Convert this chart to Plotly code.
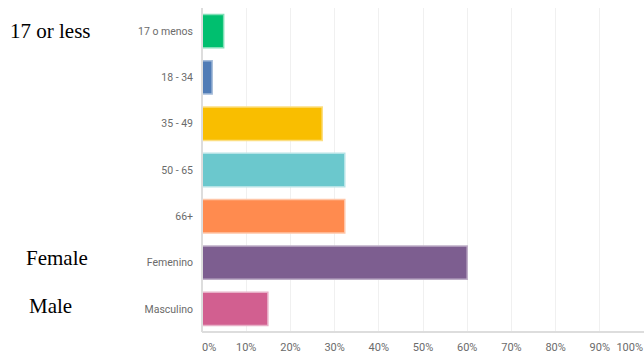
import plotly.graph_objects as go

categories = ["17 o menos", "18 - 34", "35 - 49", "50 - 65", "66+", "Femenino", "Masculino"]
values = [4.9, 2.3, 27.2, 32.3, 32.3, 60.0, 14.9]
colors = ["#00BF6F", "#507CB6", "#F9BE00", "#6BC8CD", "#FF8B4F", "#7D5E90", "#D25F90"]
borders = ["#80DFB7", "#A7BDDA", "#FCDE80", "#B5E3E6", "#FFC5A7", "#BEAEC7", "#E8AFC7"]
mid_ticks = [10, 20, 30, 40, 50, 60, 70, 80, 90]
mid_text = ["10%", "20%", "30%", "40%", "50%", "60%", "70%", "80%", "90%"]
first_tick, first_text = [0], ["0%"]
last_tick, last_text = [100], ["100%"]
side_labels = [("17 or less", "17 o menos", -0.439, 0),
               ("Female", "Femenino", -0.403, 5),
               ("Male", "Masculino", -0.396, 3)]

fig = go.Figure(go.Bar(
    x=values, y=categories, orientation="h",
    marker=dict(color=colors, line=dict(color=borders, width=1.5)),
    width=0.72, hoverinfo="skip",
))
fig.add_trace(go.Scatter(x=[], y=[], xaxis="x2", yaxis="y", showlegend=False))
fig.add_trace(go.Scatter(x=[], y=[], xaxis="x3", yaxis="y", showlegend=False))

for text, cat, px, ys in side_labels:
    fig.add_annotation(x=px, xref="paper", y=cat, yref="y", yshift=ys,
                       text=text, showarrow=False, xanchor="left",
                       font=dict(family="Liberation Serif", size=21, color="#000"))

tickfont = dict(family="Roboto", size=11, color="#6B6B6B")
common = dict(range=[0, 100], zeroline=False, showline=False, ticks="", automargin=False,
              ticklabeloverflow="allow", ticklabelstandoff=7, tickfont=tickfont,
              fixedrange=True)

fig.update_layout(
    width=644, height=356,
    margin=dict(l=202, r=0, t=8, b=24, autoexpand=False),
    plot_bgcolor="white", paper_bgcolor="white",
    showlegend=False,
    xaxis=dict(tickvals=mid_ticks + [100], ticktext=mid_text + [""],
               showgrid=True, gridcolor="#F0F0F0", gridwidth=1, **common),
    xaxis2=dict(overlaying="x", anchor="y", side="bottom", tickvals=first_tick,
                ticktext=first_text, showgrid=False,
                ticklabelposition="outside right", **common),
    xaxis3=dict(overlaying="x", anchor="y", side="bottom", tickvals=last_tick,
                ticktext=last_text, showgrid=False, ticklabelshift=-1,
                ticklabelposition="outside left", **common),
    yaxis=dict(autorange="reversed", showgrid=False, zeroline=False,
               showline=False, ticks="", ticklabelstandoff=8, automargin=False,
               tickfont=dict(family="Roboto", size=10.5, color="#6B6B6B"), fixedrange=True),
    shapes=[
        dict(type="line", xref="paper", yref="paper", x0=0, x1=0, y0=0, y1=1,
             line=dict(color="#DDDDDD", width=2)),
        dict(type="line", xref="paper", yref="paper", x0=0, x1=1, y0=0, y1=0,
             line=dict(color="#DDDDDD", width=2)),
    ],
)

fig.write_html("out.html")
